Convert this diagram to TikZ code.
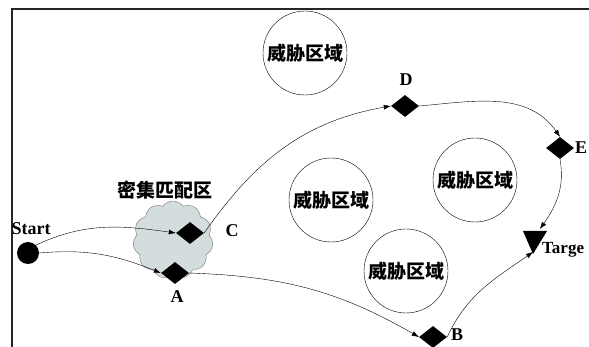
\documentclass[tikz,border=0pt]{standalone}
\usepackage{fontspec}
\setmainfont{Liberation Serif}
\newfontfamily\cjk{Noto Sans CJK SC}
\usetikzlibrary{shapes.geometric,shapes.symbols,arrows.meta}
\definecolor{cloudfill}{RGB}{211,221,222}
\tikzset{
  threat/.style={circle,draw,thin,minimum size=84pt,inner sep=0pt,font=\cjk\bfseries\fontsize{19}{19}\selectfont},
  wp/.style={diamond,fill=black,inner sep=0pt,minimum width=28pt,minimum height=22pt},
  lbl/.style={font=\bfseries\fontsize{18}{18}\selectfont,inner sep=0pt},
  pth/.style={thin,-{Latex[length=7pt,width=5pt]}},
  frame/.style={line width=1.2pt,black!85}
}
\begin{document}
\begin{tikzpicture}[x=1pt,y=-1pt]
\useasboundingbox (0,0) rectangle (589,347);
\draw[frame] (12,347) -- (12,9) -- (589,9);
% threat circles
\node[threat] (t1) at (305,53) {威胁区域};
\node[threat] (t2) at (331,200) {威胁区域};
\node[threat] (t3) at (406,271) {威胁区域};
\node[threat] (t4) at (475,180) {威胁区域};
% cloud
\node[cloud,cloud puffs=11,cloud puff arc=110,aspect=1,draw=black!55,fill=cloudfill,minimum width=80pt,minimum height=78pt,inner sep=0pt] (cl) at (173,240) {};
\node[font=\cjk\bfseries\fontsize{19}{19}\selectfont,inner sep=0pt] (cll) at (165,190) {密集匹配区};
% start
\node[circle,fill=black,minimum size=22pt,inner sep=0pt] (s) at (28,253) {};
\node[lbl] (sl) at (31,229) {Start};
% waypoints
\node[wp] (C) at (190,233) {};
\node[wp] (A) at (175,273) {};
\node[wp] (D) at (405,106) {};
\node[wp] (E) at (560,148) {};
\node[wp] (B) at (433,337) {};
\node[lbl] (Cl) at (232,231) {C};
\node[lbl] (Al) at (177,297) {A};
\node[lbl] (Dl) at (406,80) {D};
\node[lbl] (El) at (581,148) {E};
\node[lbl] (Bl) at (457,335) {B};
% target
\fill (523,231) -- (547,231) -- (533,254) -- cycle;
\coordinate (T) at (533,252);
\coordinate (Ttop) at (540,229);
\node[lbl,anchor=west,font=\bfseries\fontsize{17}{17}\selectfont] (Tl) at (542,250) {Targe};
% paths
\draw[pth] (s.north east) to[out=25,in=172] (C.west);
\draw[pth] (s.east) to[out=5,in=158] (A.west);
\draw[pth] (C.east) to[out=55,in=190] (D.west);
\draw[pth] (A.east) to[out=-2,in=150] (B.west);
\draw[pth] (D.east) to[out=5,in=125] (E.north);
\draw[pth] (E.south) to[out=-80,in=55] (Ttop);
\draw[pth] (B.east) to[out=65,in=215] (T);
\end{tikzpicture}
\end{document}
